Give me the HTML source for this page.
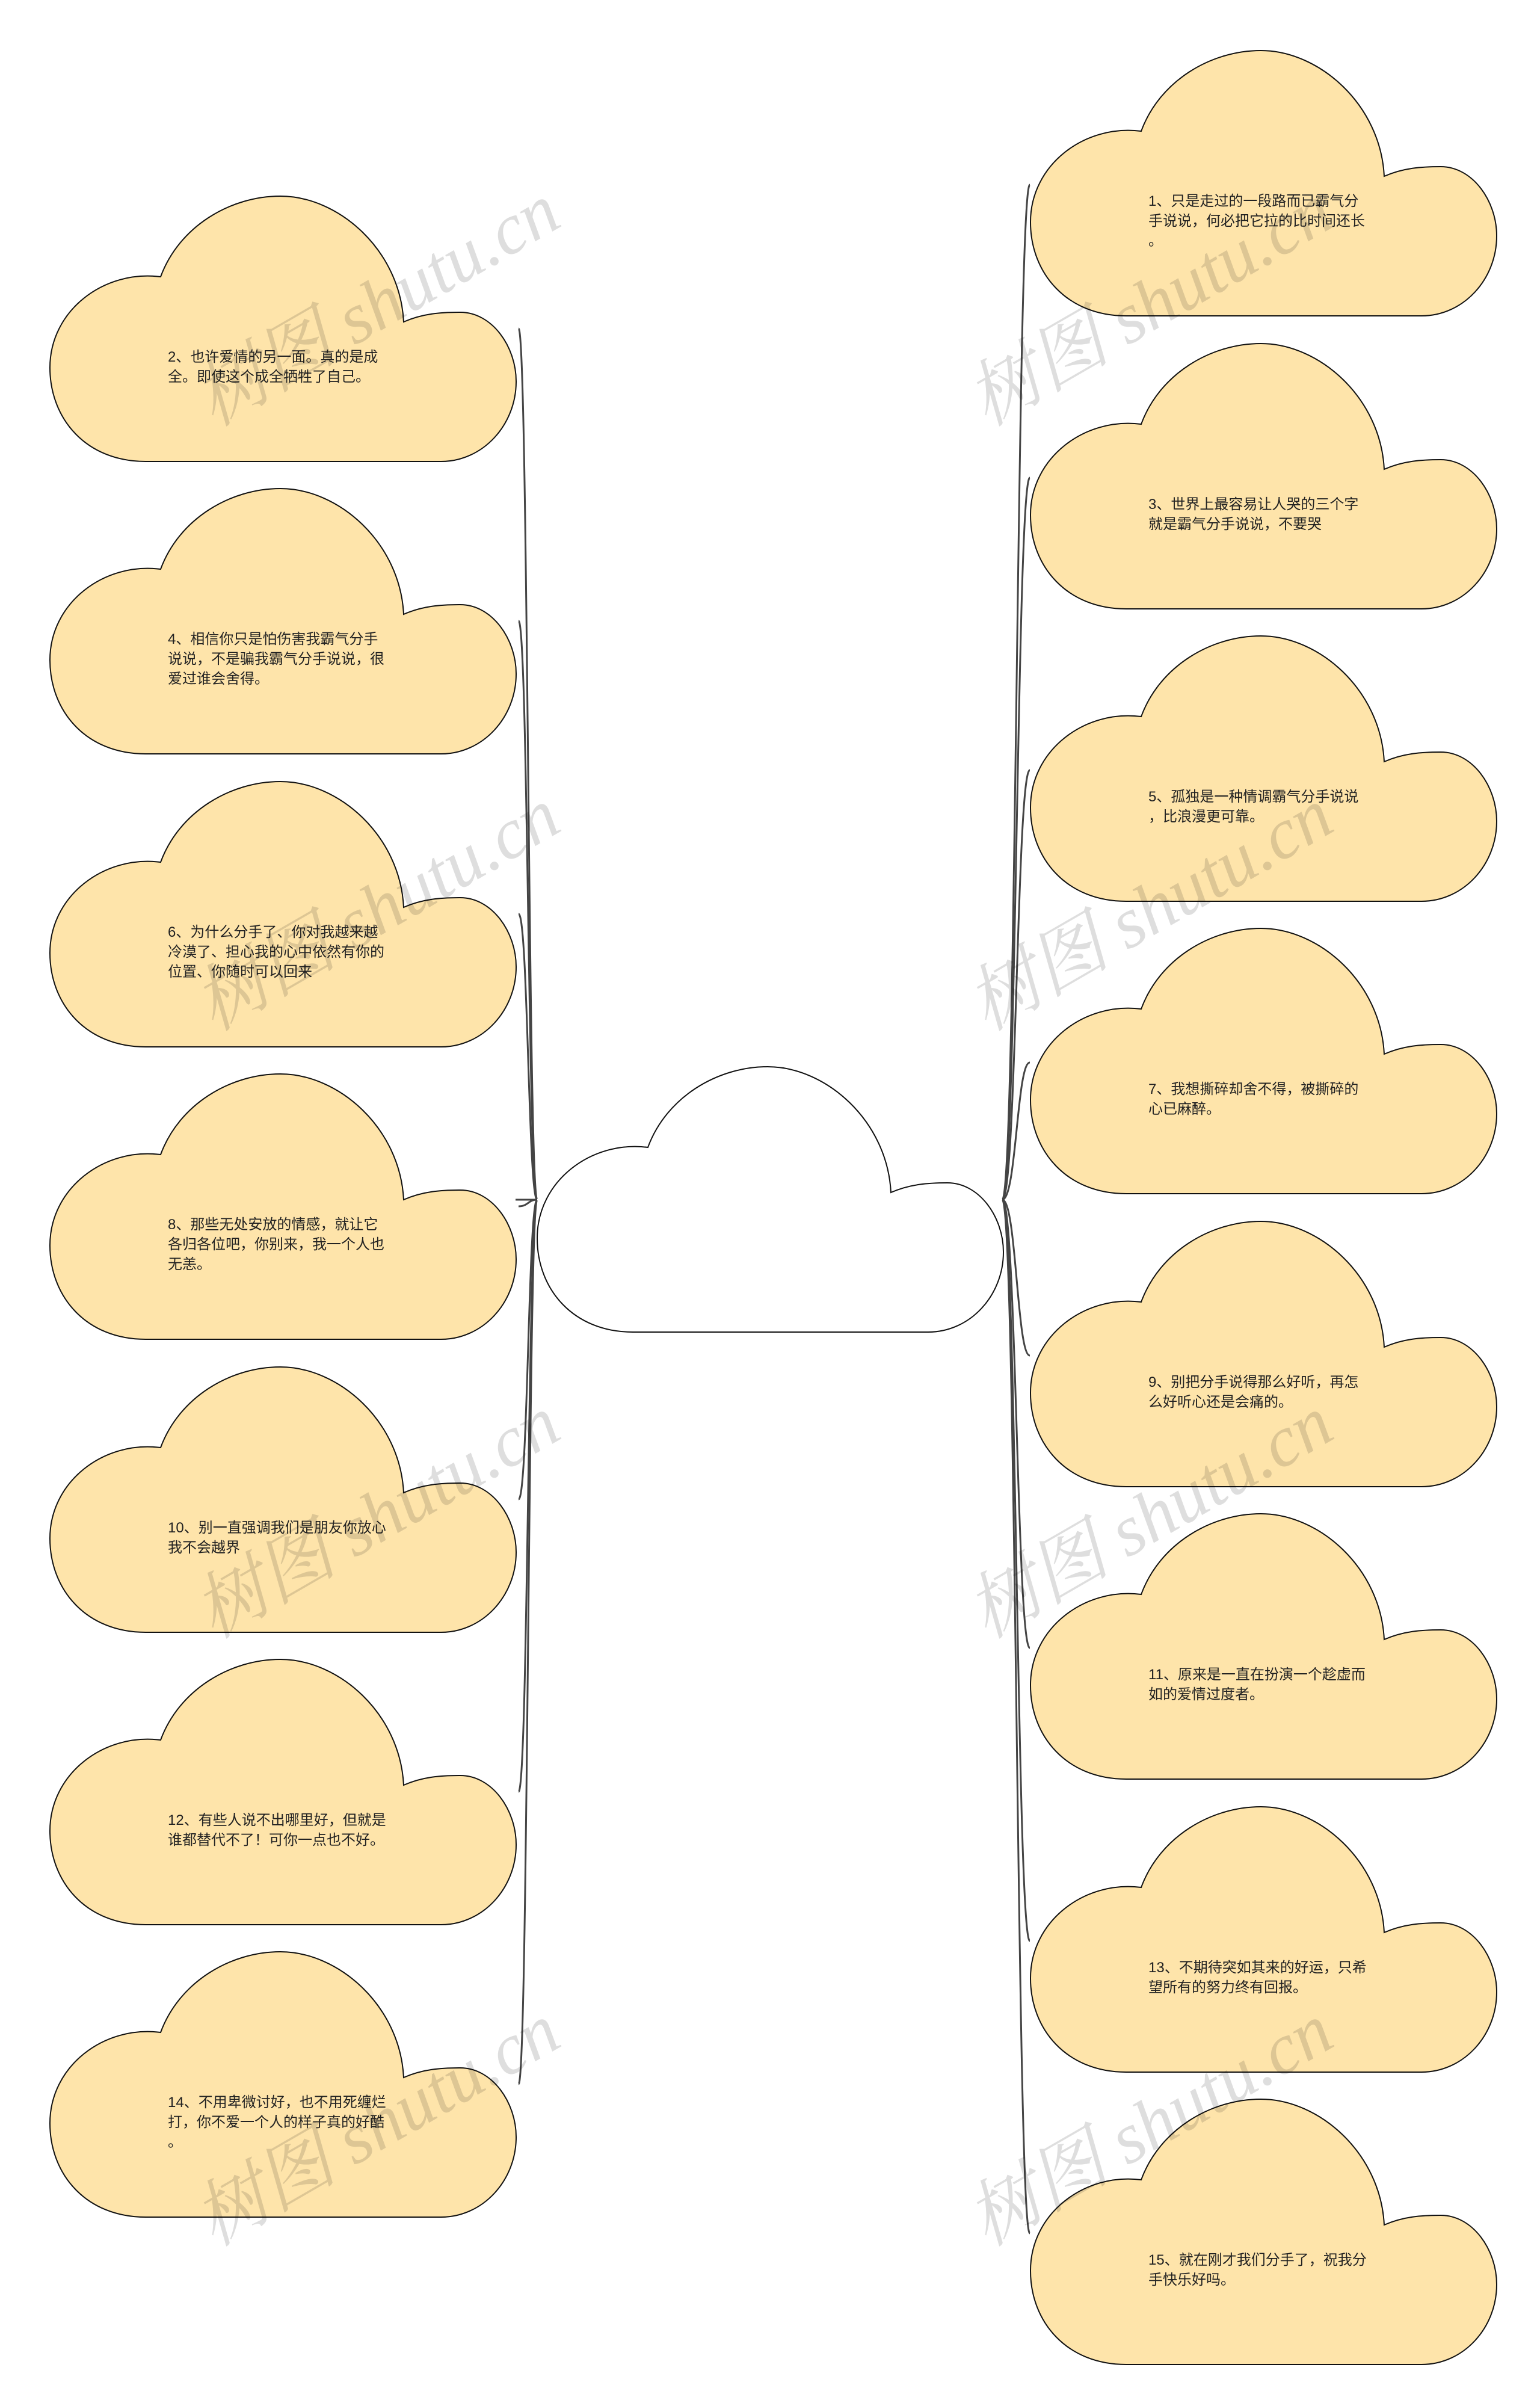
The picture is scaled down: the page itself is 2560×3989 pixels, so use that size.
<!DOCTYPE html>
<html><head><meta charset="utf-8"><style>
html,body{margin:0;padding:0;background:#fff;}
svg{display:block;}
.t{font-family:"Liberation Sans","Noto Sans CJK SC",sans-serif;font-size:24px;fill:#222;}
.w{font-family:"Liberation Serif","Noto Serif CJK SC",serif;font-style:italic;font-size:120px;fill:rgba(0,0,0,0.13);}
</style></head><body>
<svg width="2560" height="3989" viewBox="0 0 2560 3989" xmlns="http://www.w3.org/2000/svg">
<defs>
<path id="c" d="M159,441 C60,441 0,370 0,285 C0,190 90,122 184,134 C215,50 300,0 383,0 C480,0 582,90 588,209 C620,195 650,193 682,193 C735,193 775,250 775,308 C775,380 720,441 650,441 Z"/>
</defs>
<g fill="none" stroke="#444" stroke-width="3">
<path d="M857 1994 L893 1994"/>
<path d="M893 1994 C878 1994 878 546 862 546"/>
<path d="M893 1994 C878 1994 878 1032 862 1032"/>
<path d="M893 1994 C878 1994 878 1519 862 1519"/>
<path d="M893 1994 C878 1994 878 2005 862 2005"/>
<path d="M893 1994 C878 1994 878 2492 862 2492"/>
<path d="M893 1994 C878 1994 878 2978 862 2978"/>
<path d="M893 1994 C878 1994 878 3464 862 3464"/>
<path d="M1666 1994 C1690 1994 1690 307 1712 307"/>
<path d="M1666 1994 C1690 1994 1690 794 1712 794"/>
<path d="M1666 1994 C1690 1994 1690 1280 1712 1280"/>
<path d="M1666 1994 C1690 1994 1690 1766 1712 1766"/>
<path d="M1666 1994 C1690 1994 1690 2253 1712 2253"/>
<path d="M1666 1994 C1690 1994 1690 2739 1712 2739"/>
<path d="M1666 1994 C1690 1994 1690 3226 1712 3226"/>
<path d="M1666 1994 C1690 1994 1690 3712 1712 3712"/>
</g>
<g fill="#FEE4AA" stroke="#111" stroke-width="2">
<use href="#c" transform="translate(893,1773)" fill="#fff"/>
<use href="#c" transform="translate(83,326)"/>
<use href="#c" transform="translate(83,812)"/>
<use href="#c" transform="translate(83,1299)"/>
<use href="#c" transform="translate(83,1785)"/>
<use href="#c" transform="translate(83,2272)"/>
<use href="#c" transform="translate(83,2758)"/>
<use href="#c" transform="translate(83,3244)"/>
<use href="#c" transform="translate(1713,84)"/>
<use href="#c" transform="translate(1713,571)"/>
<use href="#c" transform="translate(1713,1057)"/>
<use href="#c" transform="translate(1713,1543)"/>
<use href="#c" transform="translate(1713,2030)"/>
<use href="#c" transform="translate(1713,2516)"/>
<use href="#c" transform="translate(1713,3003)"/>
<use href="#c" transform="translate(1713,3489)"/>
</g>
<g class="t">
<g transform="translate(279,326)"><text y="275">2、也许爱情的另一面。真的是成</text><text y="308">全。即使这个成全牺牲了自己。</text></g>
<g transform="translate(279,812)"><text y="258">4、相信你只是怕伤害我霸气分手</text><text y="291">说说，不是骗我霸气分手说说，很</text><text y="324">爱过谁会舍得。</text></g>
<g transform="translate(279,1299)"><text y="258">6、为什么分手了、你对我越来越</text><text y="291">冷漠了、担心我的心中依然有你的</text><text y="324">位置、你随时可以回来</text></g>
<g transform="translate(279,1785)"><text y="258">8、那些无处安放的情感，就让它</text><text y="291">各归各位吧，你别来，我一个人也</text><text y="324">无恙。</text></g>
<g transform="translate(279,2272)"><text y="275">10、别一直强调我们是朋友你放心</text><text y="308">我不会越界</text></g>
<g transform="translate(279,2758)"><text y="275">12、有些人说不出哪里好，但就是</text><text y="308">谁都替代不了！可你一点也不好。</text></g>
<g transform="translate(279,3244)"><text y="258">14、不用卑微讨好，也不用死缠烂</text><text y="291">打，你不爱一个人的样子真的好酷</text><text y="324">。</text></g>
<g transform="translate(1909,84)"><text y="258">1、只是走过的一段路而已霸气分</text><text y="291">手说说，何必把它拉的比时间还长</text><text y="324">。</text></g>
<g transform="translate(1909,571)"><text y="275">3、世界上最容易让人哭的三个字</text><text y="308">就是霸气分手说说，不要哭</text></g>
<g transform="translate(1909,1057)"><text y="275">5、孤独是一种情调霸气分手说说</text><text y="308">，比浪漫更可靠。</text></g>
<g transform="translate(1909,1543)"><text y="275">7、我想撕碎却舍不得，被撕碎的</text><text y="308">心已麻醉。</text></g>
<g transform="translate(1909,2030)"><text y="275">9、别把分手说得那么好听，再怎</text><text y="308">么好听心还是会痛的。</text></g>
<g transform="translate(1909,2516)"><text y="275">11、原来是一直在扮演一个趁虚而</text><text y="308">如的爱情过度者。</text></g>
<g transform="translate(1909,3003)"><text y="275">13、不期待突如其来的好运，只希</text><text y="308">望所有的努力终有回报。</text></g>
<g transform="translate(1909,3489)"><text y="275">15、就在刚才我们分手了，祝我分</text><text y="308">手快乐好吗。</text></g>
</g>
<g class="w">
<text transform="translate(355,710) rotate(-30)">树图 shutu.cn</text>
<text transform="translate(355,1715) rotate(-30)">树图 shutu.cn</text>
<text transform="translate(355,2725) rotate(-30)">树图 shutu.cn</text>
<text transform="translate(355,3735) rotate(-30)">树图 shutu.cn</text>
<text transform="translate(1640,710) rotate(-30)">树图 shutu.cn</text>
<text transform="translate(1640,1715) rotate(-30)">树图 shutu.cn</text>
<text transform="translate(1640,2725) rotate(-30)">树图 shutu.cn</text>
<text transform="translate(1640,3735) rotate(-30)">树图 shutu.cn</text>
</g>
</svg>
</body></html>
